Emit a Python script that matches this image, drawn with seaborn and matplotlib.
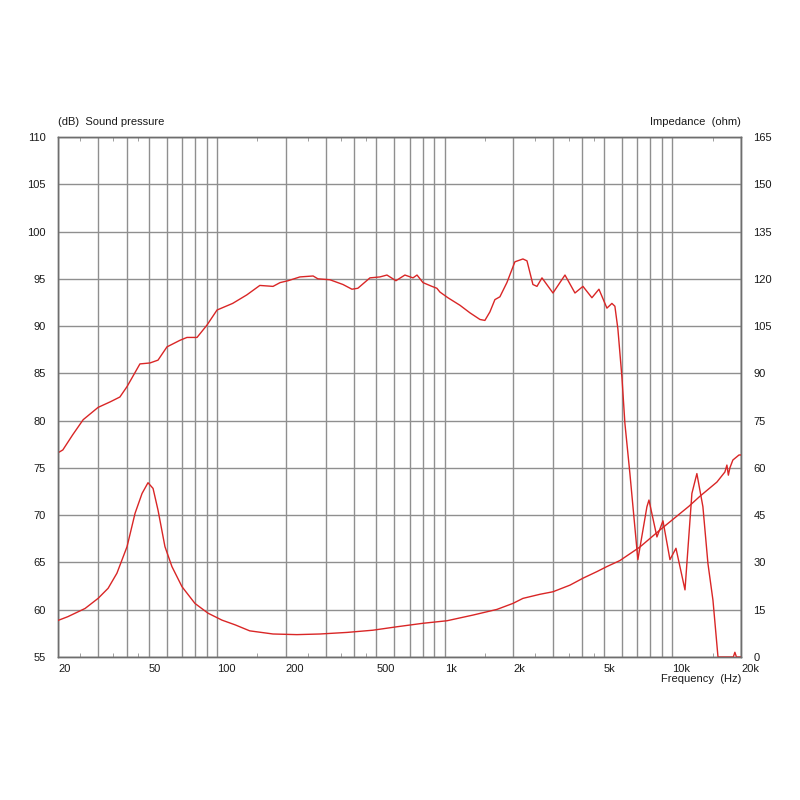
import matplotlib
matplotlib.use("Agg")
import matplotlib.pyplot as plt
import seaborn as sns
import pandas as pd
import numpy as np

# ---- data ----
spl_freq = [20, 21, 23.2, 25.8, 30.0, 34, 37.4, 40.2, 45.8, 50.7, 55, 60.2, 68.7, 73.7,
            81.6, 90.2, 99.9, 117, 135, 154, 176, 189, 205, 231, 264, 277, 313, 357, 391,
            415, 469, 519, 557, 610, 668, 725, 755, 802, 878, 923, 952, 1032, 1166, 1290,
            1427, 1500, 1578, 1660, 1746, 1874, 2032, 2204, 2296, 2438, 2540, 2672, 2986,
            3372, 3730, 4044, 4428, 4754, 5154, 5420, 5586, 5758, 5998, 6182, 6502, 7048,
            7724, 7884, 8546, 9084, 9750, 10360, 11350, 12172, 12800, 13604, 14314, 15062,
            15848, 18500, 18800, 19100, 20000]
spl_db = [76.6, 76.9, 78.5, 80.1, 81.4, 82.0, 82.5, 83.6, 86.0, 86.1, 86.4, 87.8, 88.5, 88.8,
          88.8, 90.1, 91.7, 92.4, 93.3, 94.3, 94.2, 94.6, 94.8, 95.2, 95.3, 95.0, 94.9, 94.4, 93.9,
          94.0, 95.1, 95.2, 95.4, 94.8, 95.4, 95.1, 95.4, 94.6, 94.2, 94.0, 93.6, 93.0, 92.2, 91.4,
          90.7, 90.6, 91.5, 92.8, 93.1, 94.6, 96.8, 97.1, 96.9, 94.4, 94.2, 95.1, 93.5,
          95.4, 93.5, 94.2, 93.0, 93.9, 91.9, 92.4, 92.1, 89.7, 84.6, 79.7, 74.4, 65.3,
          70.9, 71.6, 67.7, 69.4, 65.3, 66.5, 62.1, 72.3, 74.4, 70.9, 64.9, 61.0,
          55.0, 55.0, 55.5, 55.0, 55.0]

imp_freq = [20, 22.1, 26.3, 30.0, 33.2, 36.3, 38.2, 40.2, 43.6, 46.8, 49.7, 52.3, 55.0, 59.0,
            63.3, 70.1, 79.9, 91.2, 105, 120, 139, 176, 224, 283, 372, 483, 617, 802, 1022,
            1329, 1694, 1991, 2204, 2618, 2986, 3546, 4044, 4659, 5154, 5876, 7194, 8810,
            10786, 11800, 13198, 15672, 16993, 17342, 17600, 17872, 18420, 19600, 20000]
imp_ohm = [11.6, 12.8, 15.4, 18.6, 21.8, 26.6, 30.8, 35.0, 45.6, 51.9, 55.3, 53.5, 46.6, 35.0,
           28.7, 22.3, 17.0, 13.9, 11.7, 10.2, 8.3, 7.3, 7.1, 7.3, 7.8, 8.5, 9.6, 10.7, 11.5,
           13.3, 15.1, 17.0, 18.6, 19.9, 20.7, 22.8, 25.0, 27.1, 28.7, 30.6, 34.9, 40.3,
           45.5, 47.8, 51.0, 55.5, 58.7, 60.9, 57.7, 60.0, 62.5, 64.1, 64.1]

x_tick_vals = [20, 50, 100, 200, 500, 1000, 2000, 5000, 10000, 20000]
x_tick_labels = ["20", "50", "100", "200", "500", "1k", "2k", "5k", "10k", "20k"]
spl_ticks = list(range(55, 111, 5))
imp_ticks = list(range(0, 166, 15))

sns.set_style("white")
plt.rcParams["font.family"] = ["Liberation Sans", "DejaVu Sans"]

LINE = "#d92626"
GRID = "#8f8f8f"
TXT = "#1a1a1a"

fig = plt.figure(figsize=(8, 8), dpi=100)
ax = fig.add_axes([58 / 800, 1 - 657 / 800, 683 / 800, 520 / 800])

# grid lines
grid_x = [m * d for d in (10, 100, 1000, 10000) for m in range(1, 10)]
grid_x = [g for g in grid_x if 20 <= g <= 20000] + [20000]
for g in grid_x:
    ax.axvline(g, color=GRID, lw=1.0, zorder=0)
for y in spl_ticks:
    ax.axhline(y, color=GRID, lw=1.0, zorder=0)

df_spl = pd.DataFrame({"f": spl_freq, "db": spl_db})
df_imp = pd.DataFrame({"f": imp_freq, "ohm": imp_ohm})

sns.lineplot(data=df_spl, x="f", y="db", ax=ax, color=LINE, lw=1.0, sort=False,
             estimator=None, zorder=3)
ax.set_xscale("log")
ax.set_xlim(20, 20000)
ax.set_ylim(55, 110)

ax2 = ax.twinx()
sns.lineplot(data=df_imp, x="f", y="ohm", ax=ax2, color=LINE, lw=1.0, sort=False,
             estimator=None, zorder=3)
ax2.set_xscale("log")
ax2.set_xlim(20, 20000)
ax2.set_ylim(0, 165)

ax.set_xticks(x_tick_vals)
ax.set_xticklabels(x_tick_labels, ha="left")
minor = [25, 35, 45, 150, 250, 350, 450, 1500, 2500, 3500, 4500, 15000]
ax.set_xticks(minor, minor=True)
ax.tick_params(axis="x", which="minor", direction="in", length=3, color=GRID,
               top=True, bottom=True, labelbottom=False)
ax.tick_params(axis="x", which="major", length=0, pad=5, labelsize=8, labelcolor=TXT)
ax.set_yticks(spl_ticks)
ax.tick_params(axis="y", which="both", length=0, pad=9, labelsize=8, labelcolor=TXT)
ax2.set_yticks(imp_ticks)
ax2.tick_params(axis="y", which="both", length=0, pad=9, labelsize=8, labelcolor=TXT)
ax2.tick_params(axis="x", which="both", length=0)

for a in (ax, ax2):
    a.set_xlabel("")
    a.set_ylabel("")
    for s in a.spines.values():
        s.set_color("#6e6e6e")
        s.set_linewidth(1.0)

fig.text(58 / 800, 1 - 122 / 800, "(dB)  Sound pressure", ha="left", va="center",
         fontsize=8, color=TXT)
fig.text(741 / 800, 1 - 122 / 800, "Impedance  (ohm)", ha="right", va="center",
         fontsize=8, color=TXT)
fig.text(741 / 800, 1 - 679 / 800, "Frequency  (Hz)", ha="right", va="center",
         fontsize=8, color=TXT)

fig.savefig("out.png", dpi=100, facecolor="white")
